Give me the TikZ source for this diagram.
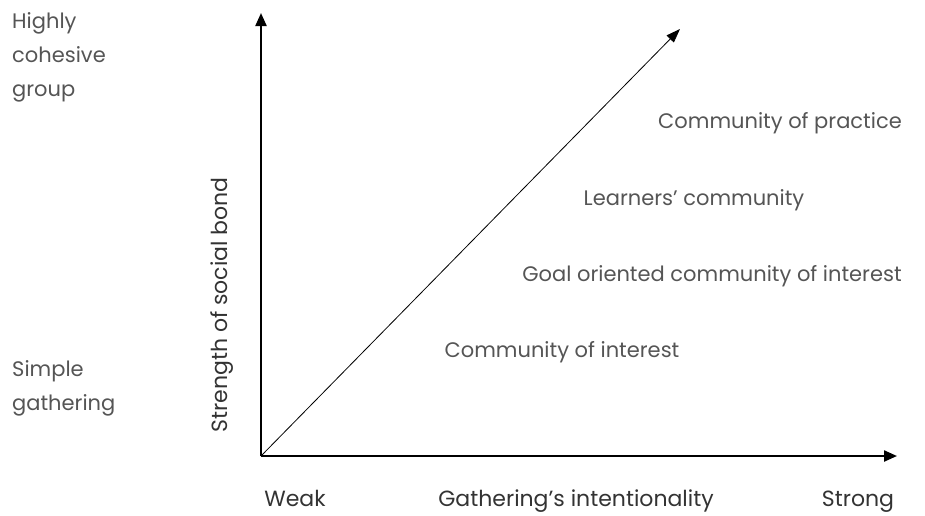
\documentclass[tikz,border=0pt]{standalone}
\usepackage{fontspec}
\setmainfont{Poppins}
\usetikzlibrary{arrows.meta}
\definecolor{lbl}{HTML}{555555}
\definecolor{axl}{HTML}{333333}
\begin{document}
\begin{tikzpicture}[x=1pt,y=-1pt,
  lab/.style={font=\fontsize{21}{25}\selectfont, text=lbl, inner sep=0pt},
  axlab/.style={font=\fontsize{22}{26}\selectfont, text=axl, inner sep=0pt},
  side/.style={font=\fontsize{21}{34}\selectfont, text=lbl, inner sep=0pt, align=left, anchor=north west},
  axis/.style={line width=2.2pt, -{Triangle[length=13pt,width=11pt]}},
  diag/.style={line width=0.8pt, -{Triangle[length=14pt,width=10pt]}}]
\useasboundingbox (0,0) rectangle (925,515);
\coordinate (O) at (261,456);
\coordinate (ytop) at (261,13);
\coordinate (xend) at (897,456);
\coordinate (dtop) at (680,29);
\draw[axis] (O) -- (ytop);
\draw[axis] (O) -- (xend);
\draw[diag] (O) -- (dtop);
\node[side] (hi) at (12,12) {Highly\\cohesive\\group};
\node[side] (lo) at (12,360) {Simple\\gathering};
\node[axlab, rotate=90] (sb) at (222,305) {Strength of social bond};
\node[axlab, anchor=base] (wk) at (295,506) {Weak};
\node[axlab, anchor=base] (gi) at (576,506) {Gathering’s intentionality};
\node[axlab, anchor=base] (st) at (858,506) {Strong};
\node[lab] (cp) at (780,123) {Community of practice};
\node[lab] (lc) at (694,200) {Learners’ community};
\node[lab] (go) at (712,276) {Goal oriented community of interest};
\node[lab] (ci) at (562,352) {Community of interest};
\end{tikzpicture}
\end{document}
